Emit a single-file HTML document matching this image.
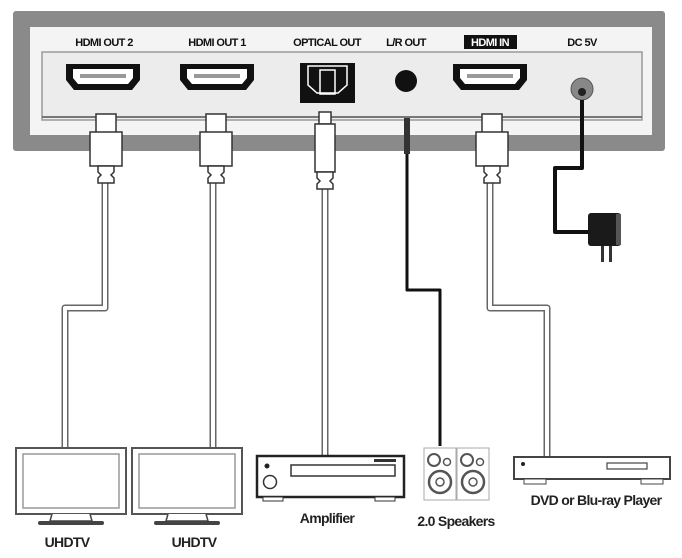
<!DOCTYPE html>
<html><head><meta charset="utf-8"><style>
html,body{margin:0;padding:0;background:#fff;width:682px;height:558px;overflow:hidden}
text{font-family:"Liberation Sans",sans-serif;font-weight:bold}
</style></head><body>
<svg width="682" height="558" viewBox="0 0 682 558" xmlns="http://www.w3.org/2000/svg">
<rect x="13" y="11" width="652" height="140" rx="3" fill="#8a8a8a"/>
<rect x="30" y="27" width="622" height="108" fill="#f4f4f4"/>
<rect x="42" y="52" width="600" height="68" fill="#ececec" stroke="#9a9a9a" stroke-width="1.5"/>
<line x1="42" y1="117" x2="642" y2="117" stroke="#777" stroke-width="2"/>
<g font-size="11" fill="#111" text-anchor="middle" letter-spacing="-0.6">
<text x="104" y="46">HDMI OUT 2</text>
<text x="217" y="46">HDMI OUT 1</text>
<text x="327" y="46">OPTICAL OUT</text>
<text x="406" y="46">L/R OUT</text>
<rect x="464" y="35" width="53" height="14" fill="#111"/>
<text x="490" y="46" fill="#fff">HDMI IN</text>
<text x="582" y="46">DC 5V</text>
</g>
<g id="hp">
<path d="M66 64 H140 V80 L132 90 H74 L66 80 Z" fill="#111"/>
<path d="M73 69 H133 V78 L128 84 H78 L73 78 Z" fill="#fff"/>
<rect x="80" y="74" width="46" height="4" fill="#999"/>
</g>
<use href="#hp" x="114"/>
<use href="#hp" x="387"/>
<rect x="300" y="63" width="55" height="40" fill="#111"/>
<path d="M308 66 H347 V85 L338 93 H317 L308 85 Z" fill="none" stroke="#fff" stroke-width="1.5"/>
<rect x="320" y="70" width="15" height="24" fill="none" stroke="#fff" stroke-width="1.5"/>
<circle cx="406" cy="81" r="11" fill="#111"/>
<circle cx="582" cy="89" r="11" fill="#888" stroke="#555"/>
<circle cx="582" cy="92" r="4" fill="#222"/>
<g fill="none" stroke-linejoin="round">
<g stroke="#666" stroke-width="7">
<path d="M105 180 V308 H65 V450"/>
<path d="M213 180 V450"/>
<path d="M325 180 V458"/>
<path d="M490 180 V308 H547 V460"/>
</g>
<g stroke="#fff" stroke-width="4">
<path d="M105 180 V308 H65 V450"/>
<path d="M213 180 V450"/>
<path d="M325 180 V458"/>
<path d="M490 180 V308 H547 V460"/>
</g>
<path d="M407 130 V290 H440 V446" stroke="#111" stroke-width="3"/>
<path d="M582 100 V168 H555 V232 H590" stroke="#111" stroke-width="4"/>
</g>
<g id="pl" fill="#fff" stroke="#333" stroke-width="1.5">
<rect x="96" y="114" width="20" height="20"/>
<rect x="90" y="132" width="32" height="34"/>
<path d="M98 166 H114 V172 L111 175 L114 178 V183 H98 V178 L101 175 L98 172 Z"/>
</g>
<use href="#pl" x="110"/>
<use href="#pl" x="386"/>
<g fill="#fff" stroke="#333" stroke-width="1.5">
<rect x="319" y="112" width="12" height="12"/>
<rect x="315" y="124" width="20" height="48"/>
<path d="M317 172 H333 V178 L330 181 L333 184 V189 H317 V184 L320 181 L317 178 Z"/>
</g>
<rect x="404" y="118" width="6" height="36" fill="#333"/>
<rect x="588" y="213" width="33" height="33" rx="3" fill="#1a1a1a"/>
<rect x="616" y="214" width="5" height="31" fill="#555"/>
<rect x="601" y="246" width="3" height="16" fill="#333"/>
<rect x="609" y="246" width="3" height="16" fill="#333"/>
<g id="tv">
<rect x="16" y="448" width="110" height="66" fill="#fff" stroke="#555" stroke-width="2"/>
<rect x="23" y="454" width="96" height="54" fill="#fff" stroke="#999" stroke-width="1.5"/>
<path d="M52 514 L50 521 H92 L90 514" fill="#fff" stroke="#444" stroke-width="1.5"/>
<rect x="38" y="521" width="66" height="4" rx="2" fill="#444"/>
</g>
<use href="#tv" x="116"/>
<!-- amplifier -->
<rect x="257" y="456" width="147" height="41" fill="#fff" stroke="#222" stroke-width="2.5"/>
<rect x="291" y="465" width="104" height="11" fill="#fff" stroke="#333" stroke-width="1.5"/>
<circle cx="267" cy="466" r="2.5" fill="#222"/>
<circle cx="270" cy="482" r="6.5" fill="#fff" stroke="#333" stroke-width="1.5"/>
<rect x="374" y="459" width="22" height="3" fill="#333"/>
<rect x="263" y="497" width="20" height="4" fill="#fff" stroke="#333"/>
<rect x="375" y="497" width="20" height="4" fill="#fff" stroke="#333"/>
<g id="sp">
<rect x="424" y="448" width="32" height="52" fill="#fff" stroke="#aaa" stroke-width="1"/>
<circle cx="434" cy="460" r="6" fill="#fff" stroke="#555" stroke-width="2"/>
<circle cx="447" cy="462" r="3.5" fill="#fff" stroke="#555" stroke-width="1.5"/>
<circle cx="440" cy="482" r="11" fill="#fff" stroke="#555" stroke-width="2.5"/>
<circle cx="440" cy="482" r="4" fill="#fff" stroke="#555" stroke-width="1.5"/>
</g>
<use href="#sp" x="33"/>
<rect x="514" y="457" width="156" height="22" fill="#fff" stroke="#444" stroke-width="2"/>
<rect x="607" y="463" width="40" height="6" fill="#fff" stroke="#444" stroke-width="1.2"/>
<circle cx="523" cy="464" r="2" fill="#222"/>
<rect x="524" y="479" width="22" height="5" fill="#fff" stroke="#444"/>
<rect x="641" y="479" width="22" height="5" fill="#fff" stroke="#444"/>
<g font-size="14" fill="#222" text-anchor="middle" letter-spacing="-0.7">
<text x="67" y="547">UHDTV</text>
<text x="194" y="547">UHDTV</text>
<text x="327" y="523">Amplifier</text>
<text x="456" y="526">2.0 Speakers</text>
<text x="596" y="505">DVD or Blu-ray Player</text>
</g>
</svg>
</body></html>
